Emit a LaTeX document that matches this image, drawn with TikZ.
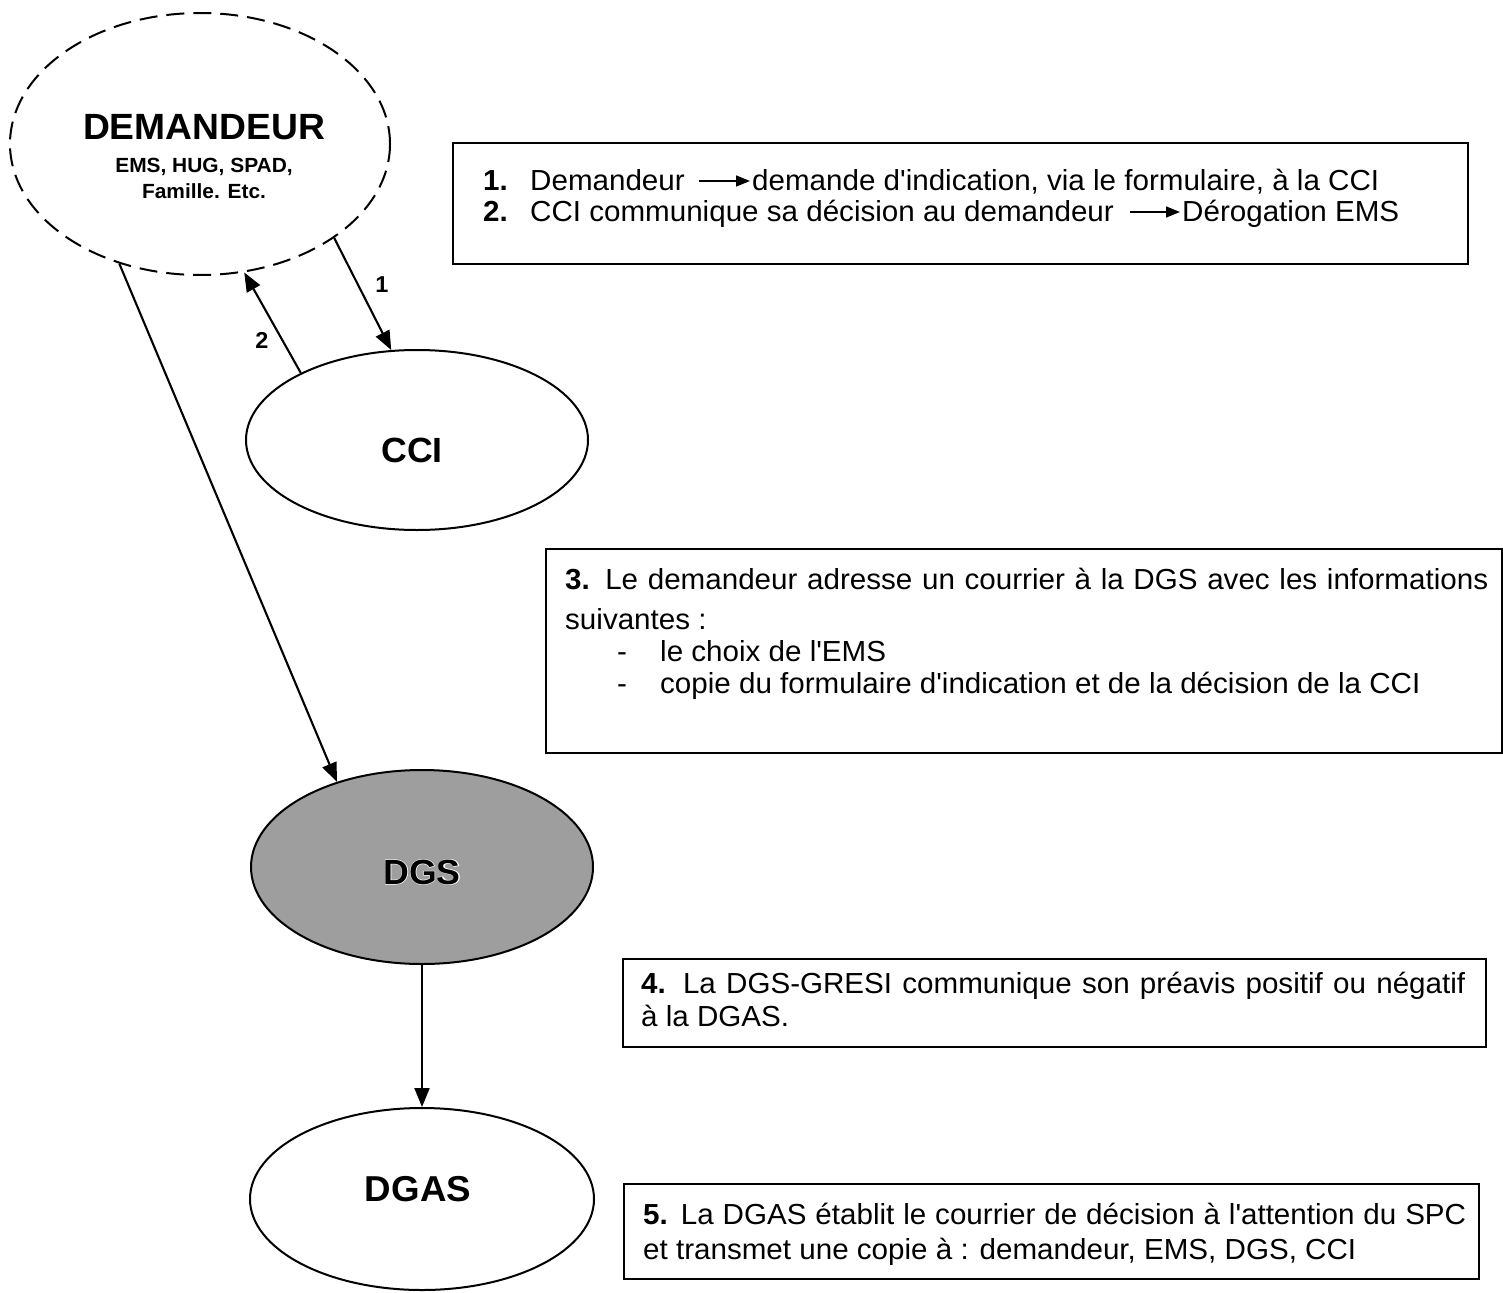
\documentclass[tikz,border=0pt]{standalone}
\usepackage{fontspec}
\setmainfont{Liberation Sans}[FakeStretch=1.02]
\newfontfamily\halofont{Liberation Sans}[FakeStretch=1.02,FakeBold=3]
\usetikzlibrary{arrows.meta,shapes.geometric,calc}
\begin{document}
\begin{tikzpicture}[x=1pt,y=-1pt,
  ell/.style={ellipse, draw, line width=2pt, inner sep=0pt},
  boxr/.style={draw, line width=2.4pt, inner sep=0pt, anchor=north west},
  txt/.style={anchor=base west, inner sep=0pt, font=\fontsize{29}{33}\selectfont},
  lab/.style={anchor=base, inner sep=0pt, font=\bfseries\fontsize{35}{40}\selectfont},
  sublab/.style={anchor=base, inner sep=0pt, font=\bfseries\fontsize{20.5}{24}\selectfont},
  arr/.style={line width=2.1pt, -{Triangle[length=19pt,width=15pt]}},
  inarr/.style={line width=1.6pt, -{Triangle[length=14pt,width=11pt]}},
  num/.style={font=\bfseries\fontsize{23}{26}\selectfont, inner sep=0pt}]

\useasboundingbox (0,0) rectangle (1503,1292);
\fill[white] (0,0) rectangle (1503,1292);

% ellipses
\node[ell, dash pattern=on 18pt off 9pt, minimum width=380pt, minimum height=262pt] (dem) at (200,144) {};
\node[ell, minimum width=342pt, minimum height=180pt] (cci) at (417,440) {};
\node[ell, fill=black!38, minimum width=342pt, minimum height=194pt] (dgs) at (422,867) {};
\node[ell, minimum width=344pt, minimum height=182pt] (dgas) at (422,1199) {};

% ellipse labels
\node[lab, font=\bfseries\fontsize{36.5}{40}\selectfont] (demA) at (204,140) {DEMANDEUR};
\node[sublab] (demB) at (204,172) {EMS, HUG, SPAD,};
\node[sublab] (demC) at (204,198) {Famille. Etc.};
\node[lab] (cciL) at (412,462) {CCI};
\node[lab, text=white, font=\halofont\bfseries\fontsize{35}{40}\selectfont] (dgsH) at (422,884) {DGS};
\node[lab] (dgsL) at (422,884) {DGS};
\node[lab, font=\bfseries\fontsize{36}{40}\selectfont] (dgasL) at (418,1201) {DGAS};

% connectors
\draw[arr] (dem.-35.9) -- (cci.106.7);
\draw[arr] (cci.150.5) -- (dem.-71);
\draw[arr] (dem.236.6) -- (dgs.135.7);
\draw[arr] (dgs.south) -- (dgas.north);
\node[num] (n1) at (382,285) {1};
\node[num] (n2) at (262,340) {2};

% boxes
\node[boxr, minimum width=1015pt, minimum height=121pt] (box1) at (452,142) {};
\node[boxr, minimum width=956pt, minimum height=204pt] (box3) at (545,548) {};
\node[boxr, minimum width=863pt, minimum height=88pt] (box4) at (622,958) {};
\node[boxr, minimum width=855pt, minimum height=95pt] (box5) at (623,1183) {};

% box 1
\node[txt] (t1a) at (483,190) {\makebox[47pt][l]{\textbf{1.}}Demandeur};
\node[txt] (t1b) at (752,190) {demande d\textquotesingle indication, via le formulaire, à la CCI};
\draw[inarr] ($(t1a.base east)+(14,-9)$) -- ($(t1b.base west)+(-2,-9)$);
\node[txt] (t2a) at (483,221) {\makebox[47pt][l]{\textbf{2.}}CCI communique sa décision au demandeur};
\node[txt] (t2b) at (1182,221) {Dérogation EMS};
\draw[inarr] ($(t2a.base east)+(16,-9)$) -- ($(t2b.base west)+(-2,-9)$);

% box 3
\node[txt] (t3a) at (565,589) {\makebox[923pt][s]{\textbf{3.} Le demandeur adresse un courrier à la DGS avec les informations}};
\node[txt] (t3b) at (565,629) {suivantes :};
\node[txt] (t3c) at (617,661) {\makebox[43pt][l]{-}le choix de l\textquotesingle EMS};
\node[txt] (t3d) at (617,693) {\makebox[43pt][l]{-}copie du formulaire d\textquotesingle indication et de la décision de la CCI};

% box 4
\node[txt] (t4a) at (641,993) {\makebox[824pt][s]{\textbf{4.} La DGS-GRESI communique son préavis positif ou négatif}};
\node[txt] (t4b) at (641,1026) {à la DGAS.};

% box 5
\node[txt] (t5a) at (643,1224) {\makebox[823pt][s]{\textbf{5.} La DGAS établit le courrier de décision à l\textquotesingle attention du SPC}};
\node[txt] (t5b) at (643,1259) {et transmet une copie à : demandeur, EMS, DGS, CCI};
\end{tikzpicture}
\end{document}
